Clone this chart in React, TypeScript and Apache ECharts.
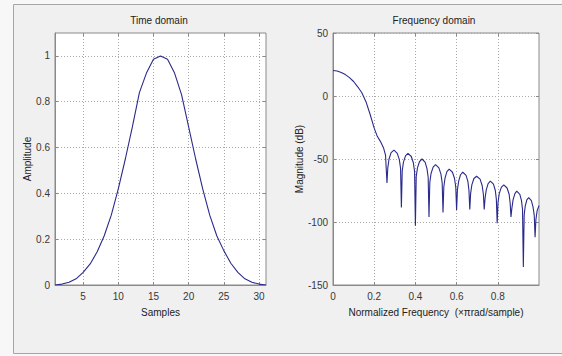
import React, { useEffect, useRef } from "react";
import * as echarts from "echarts";

// ---- Data ----
const sampleIdx = [1, 2, 3, 4, 5, 6, 7, 8, 9, 10, 11, 12, 13, 14, 15, 16, 17, 18, 19, 20, 21, 22, 23, 24, 25, 26, 27, 28, 29, 30, 31];
const amplitude = [0, 0.004, 0.012, 0.027, 0.055, 0.092, 0.145, 0.215, 0.305, 0.42, 0.55, 0.69, 0.84, 0.925, 0.985, 1.0, 0.985, 0.925, 0.83, 0.69, 0.55, 0.42, 0.305, 0.215, 0.15, 0.095, 0.055, 0.027, 0.012, 0.004, 0];

const freq = [
  0, 0.02, 0.04, 0.06, 0.08, 0.1, 0.12, 0.14, 0.16, 0.18, 0.2, 0.215, 0.23, 0.245, 0.255,
  0.262, 0.266, 0.272, 0.282, 0.296, 0.312, 0.322, 0.328,
  0.332, 0.336, 0.342, 0.352, 0.364, 0.38, 0.39, 0.396,
  0.4, 0.404, 0.41, 0.42, 0.432, 0.447, 0.456, 0.462,
  0.466, 0.47, 0.476, 0.486, 0.498, 0.514, 0.524, 0.53,
  0.534, 0.538, 0.544, 0.553, 0.564, 0.58, 0.59, 0.596,
  0.6, 0.604, 0.61, 0.619, 0.63, 0.646, 0.655, 0.66,
  0.664, 0.668, 0.674, 0.684, 0.697, 0.714, 0.724, 0.73,
  0.734, 0.738, 0.744, 0.753, 0.764, 0.779, 0.788, 0.793,
  0.797, 0.801, 0.807, 0.817, 0.829, 0.845, 0.855, 0.86,
  0.864, 0.868, 0.874, 0.883, 0.892, 0.907, 0.915, 0.92,
  0.924, 0.928, 0.933, 0.941, 0.95, 0.963, 0.971, 0.977,
  0.981, 0.985, 0.991, 1.0,
];
const magnitudeDb = [
  20.2, 19.8, 18.7, 17.0, 14.6, 11.5, 7.3, 2.6, -4.5, -14.5, -25.5, -32, -36, -41, -47,
  -69, -57, -50, -45, -43, -45.5, -50.5, -57.5,
  -88.5, -59.5, -52.5, -47.5, -45.5, -48, -53, -60,
  -103, -64, -57, -52, -50, -52.5, -57.5, -64.5,
  -96, -68.5, -61.5, -56.5, -54.5, -57, -62, -69,
  -92.5, -72, -65, -60, -58, -60.5, -65.5, -72.5,
  -90.5, -74.5, -67.5, -62.5, -60.5, -63, -68, -75,
  -90, -77.5, -70.5, -65.5, -63.7, -66, -71, -78,
  -90, -81.5, -74.5, -69.5, -67.5, -70, -75, -82,
  -101, -84.5, -77.5, -72.5, -70.5, -73, -78, -85,
  -96, -89.5, -82.5, -77.5, -75.5, -78, -83, -90,
  -135.7, -94.5, -87.5, -82.5, -80.7, -83, -88, -95,
  -112, -98, -91, -87,
];

const sampleTicks = [5, 10, 15, 20, 25, 30];
const ampTicks = [0, 0.2, 0.4, 0.6, 0.8, 1];
const freqTicks = [0, 0.2, 0.4, 0.6, 0.8];
const dbTicks = [-150, -100, -50, 0, 50];

const FONT = "Liberation Sans, Arial, sans-serif";
const LABEL = "#383838";
const BOX = "#8a8a8a";
const GRIDC = "#a8a8a8";
const LINE = "#2a2a8c";

export default function App() {
  const ref = useRef<HTMLDivElement>(null);
  useEffect(() => {
    if (!ref.current) return;
    const chart = echarts.init(ref.current, undefined, { renderer: "svg" });
    const split = { show: true, lineStyle: { color: GRIDC, type: [1, 2] as any, width: 1 } };
    const labelBase = { color: LABEL, fontSize: 10, fontFamily: FONT };
    const nameStyle = { color: "#222", fontSize: 10, fontFamily: FONT };
    const tick = (vals: number[]) => ({ show: true, inside: true, length: 3, customValues: vals, lineStyle: { color: BOX } });
    const option: any = {
      animation: false,
      backgroundColor: "#f7f7f7",
      graphic: [
        { type: "rect", z: -10, shape: { x: 13.5, y: 4.5, width: 560, height: 349 }, style: { fill: "#f0f0f0", stroke: "#a6a6a6", lineWidth: 1 } },
        { type: "text", x: 159, y: 20, style: { text: "Time domain", align: "center", verticalAlign: "middle", fontSize: 10, fontFamily: FONT, fill: "#222" } },
        { type: "text", x: 434, y: 20, style: { text: "Frequency domain", align: "center", verticalAlign: "middle", fontSize: 10, fontFamily: FONT, fill: "#222" } },
      ],
      grid: [
        { left: 55, top: 33, width: 211, height: 252, show: true, backgroundColor: "#ffffff", borderColor: BOX, borderWidth: 1 },
        { left: 333, top: 33, width: 206, height: 252, show: true, backgroundColor: "#ffffff", borderColor: BOX, borderWidth: 1 },
      ],
      xAxis: [
        {
          gridIndex: 0, type: "value", min: 1, max: 31,
          name: "Samples", nameLocation: "middle", nameGap: 22, nameTextStyle: nameStyle,
          axisLine: { show: true, onZero: false, lineStyle: { color: BOX } },
          axisTick: tick(sampleTicks),
          axisLabel: { ...labelBase, margin: 6, customValues: sampleTicks },
          splitLine: split,
        },
        {
          gridIndex: 1, type: "value", min: 0, max: 1, interval: 0.2,
          name: "Normalized Frequency  (×πrad/sample)", nameLocation: "middle", nameGap: 22, nameTextStyle: nameStyle,
          axisLine: { show: true, onZero: false, lineStyle: { color: BOX } },
          axisTick: tick(freqTicks),
          axisLabel: { ...labelBase, margin: 6, customValues: freqTicks },
          splitLine: split,
        },
        {
          gridIndex: 0, type: "value", min: 1, max: 31, position: "top",
          axisLine: { show: false, onZero: false }, axisTick: tick(sampleTicks), axisLabel: { show: false }, splitLine: { show: false },
        },
        {
          gridIndex: 1, type: "value", min: 0, max: 1, position: "top",
          axisLine: { show: false, onZero: false }, axisTick: tick(freqTicks), axisLabel: { show: false }, splitLine: { show: false },
        },
      ],
      yAxis: [
        {
          gridIndex: 0, type: "value", min: 0, max: 1.1,
          name: "Amplitude", nameLocation: "middle", nameGap: 12, nameRotate: 90, nameTextStyle: nameStyle,
          axisLine: { show: true, onZero: false, lineStyle: { color: BOX } },
          axisTick: tick(ampTicks),
          axisLabel: { ...labelBase, margin: 5, customValues: ampTicks },
          splitLine: split,
        },
        {
          gridIndex: 1, type: "value", min: -150, max: 50, interval: 50,
          name: "Magnitude (dB)", nameLocation: "middle", nameGap: 21, nameRotate: 90, nameTextStyle: nameStyle,
          axisLine: { show: true, onZero: false, lineStyle: { color: BOX } },
          axisTick: tick(dbTicks),
          axisLabel: { ...labelBase, margin: 5, customValues: dbTicks },
          splitLine: split,
        },
        {
          gridIndex: 0, type: "value", min: 0, max: 1.1, position: "right",
          axisLine: { show: false, onZero: false }, axisTick: tick(ampTicks), axisLabel: { show: false }, splitLine: { show: false },
        },
        {
          gridIndex: 1, type: "value", min: -150, max: 50, position: "right",
          axisLine: { show: false, onZero: false }, axisTick: tick(dbTicks), axisLabel: { show: false }, splitLine: { show: false },
        },
      ],
      series: [
        {
          type: "line", xAxisIndex: 0, yAxisIndex: 0, showSymbol: false, symbol: "none",
          data: sampleIdx.map((n, i) => [n, amplitude[i]]),
          lineStyle: { color: LINE, width: 1.1 }, smooth: false,
        },
        {
          type: "line", xAxisIndex: 1, yAxisIndex: 1, showSymbol: false, symbol: "none",
          data: freq.map((f, i) => [f, magnitudeDb[i]]),
          lineStyle: { color: LINE, width: 1.1 }, smooth: false,
        },
      ],
    };
    chart.setOption(option);
    return () => chart.dispose();
  }, []);
  return <div ref={ref} style={{ position: "absolute", left: 0, top: 0, width: 562, height: 356 }} />;
}
